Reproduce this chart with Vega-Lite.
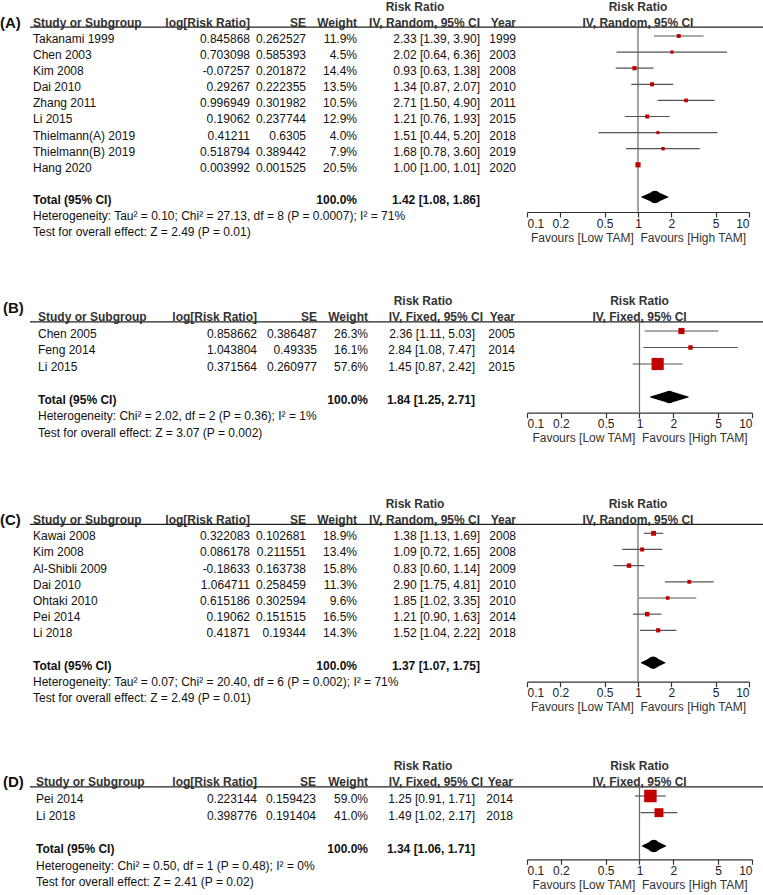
{
"$schema":"https://vega.github.io/schema/vega-lite/v6.json",
"background":"white","padding":0,
"columns":8,"spacing":0,"bounds":"flush","align":"each",
"datasets":{
"studies":[
{"panel":"A","row":1,"study":"Takanami 1999","logrr":0.845868,"se":0.262527,"w":0.119,"ci":"2.33 [1.39, 3.90]","year":1999,"rr":2.33,"lo":1.39,"hi":3.9},
{"panel":"A","row":2,"study":"Chen 2003","logrr":0.703098,"se":0.585393,"w":0.045,"ci":"2.02 [0.64, 6.36]","year":2003,"rr":2.02,"lo":0.64,"hi":6.36},
{"panel":"A","row":3,"study":"Kim 2008","logrr":-0.07257,"se":0.201872,"w":0.144,"ci":"0.93 [0.63, 1.38]","year":2008,"rr":0.93,"lo":0.63,"hi":1.38},
{"panel":"A","row":4,"study":"Dai 2010","logrr":0.29267,"se":0.222355,"w":0.135,"ci":"1.34 [0.87, 2.07]","year":2010,"rr":1.34,"lo":0.87,"hi":2.07},
{"panel":"A","row":5,"study":"Zhang 2011","logrr":0.996949,"se":0.301982,"w":0.105,"ci":"2.71 [1.50, 4.90]","year":2011,"rr":2.71,"lo":1.5,"hi":4.9},
{"panel":"A","row":6,"study":"Li 2015","logrr":0.19062,"se":0.237744,"w":0.129,"ci":"1.21 [0.76, 1.93]","year":2015,"rr":1.21,"lo":0.76,"hi":1.93},
{"panel":"A","row":7,"study":"Thielmann(A) 2019","logrr":0.41211,"se":0.6305,"w":0.04,"ci":"1.51 [0.44, 5.20]","year":2018,"rr":1.51,"lo":0.44,"hi":5.2},
{"panel":"A","row":8,"study":"Thielmann(B) 2019","logrr":0.518794,"se":0.389442,"w":0.079,"ci":"1.68 [0.78, 3.60]","year":2019,"rr":1.68,"lo":0.78,"hi":3.6},
{"panel":"A","row":9,"study":"Hang 2020","logrr":0.003992,"se":0.001525,"w":0.205,"ci":"1.00 [1.00, 1.01]","year":2020,"rr":1.0,"lo":1.0,"hi":1.01},
{"panel":"B","row":1,"study":"Chen 2005","logrr":0.858662,"se":0.386487,"w":0.263,"ci":"2.36 [1.11, 5.03]","year":2005,"rr":2.36,"lo":1.11,"hi":5.03},
{"panel":"B","row":2,"study":"Feng 2014","logrr":1.043804,"se":0.49335,"w":0.161,"ci":"2.84 [1.08, 7.47]","year":2014,"rr":2.84,"lo":1.08,"hi":7.47},
{"panel":"B","row":3,"study":"Li 2015","logrr":0.371564,"se":0.260977,"w":0.576,"ci":"1.45 [0.87, 2.42]","year":2015,"rr":1.45,"lo":0.87,"hi":2.42},
{"panel":"C","row":1,"study":"Kawai 2008","logrr":0.322083,"se":0.102681,"w":0.189,"ci":"1.38 [1.13, 1.69]","year":2008,"rr":1.38,"lo":1.13,"hi":1.69},
{"panel":"C","row":2,"study":"Kim 2008","logrr":0.086178,"se":0.211551,"w":0.134,"ci":"1.09 [0.72, 1.65]","year":2008,"rr":1.09,"lo":0.72,"hi":1.65},
{"panel":"C","row":3,"study":"Al-Shibli 2009","logrr":-0.18633,"se":0.163738,"w":0.158,"ci":"0.83 [0.60, 1.14]","year":2009,"rr":0.83,"lo":0.6,"hi":1.14},
{"panel":"C","row":4,"study":"Dai 2010","logrr":1.064711,"se":0.258459,"w":0.113,"ci":"2.90 [1.75, 4.81]","year":2010,"rr":2.9,"lo":1.75,"hi":4.81},
{"panel":"C","row":5,"study":"Ohtaki 2010","logrr":0.615186,"se":0.302594,"w":0.096,"ci":"1.85 [1.02, 3.35]","year":2010,"rr":1.85,"lo":1.02,"hi":3.35},
{"panel":"C","row":6,"study":"Pei 2014","logrr":0.19062,"se":0.151515,"w":0.165,"ci":"1.21 [0.90, 1.63]","year":2014,"rr":1.21,"lo":0.9,"hi":1.63},
{"panel":"C","row":7,"study":"Li 2018","logrr":0.41871,"se":0.19344,"w":0.143,"ci":"1.52 [1.04, 2.22]","year":2018,"rr":1.52,"lo":1.04,"hi":2.22},
{"panel":"D","row":1,"study":"Pei 2014","logrr":0.223144,"se":0.159423,"w":0.59,"ci":"1.25 [0.91, 1.71]","year":2014,"rr":1.25,"lo":0.91,"hi":1.71},
{"panel":"D","row":2,"study":"Li 2018","logrr":0.398776,"se":0.191404,"w":0.41,"ci":"1.49 [1.02, 2.17]","year":2018,"rr":1.49,"lo":1.02,"hi":2.17}
],
"totals":[
{"panel":"A","row":11,"label":"Total (95% CI)","w":1,"ci":"1.42 [1.08, 1.86]","rr":1.42,"lo":1.08,"hi":1.86},
{"panel":"B","row":5,"label":"Total (95% CI)","w":1,"ci":"1.84 [1.25, 2.71]","rr":1.84,"lo":1.25,"hi":2.71},
{"panel":"C","row":9,"label":"Total (95% CI)","w":1,"ci":"1.37 [1.07, 1.75]","rr":1.37,"lo":1.07,"hi":1.75},
{"panel":"D","row":4,"label":"Total (95% CI)","w":1,"ci":"1.34 [1.06, 1.71]","rr":1.34,"lo":1.06,"hi":1.71}
],
"notes":[
{"panel":"A","row":12,"text":"Heterogeneity: Tau² = 0.10; Chi² = 27.13, df = 8 (P = 0.0007); I² = 71%"},
{"panel":"A","row":13,"text":"Test for overall effect: Z = 2.49 (P = 0.01)"},
{"panel":"B","row":6,"text":"Heterogeneity: Chi² = 2.02, df = 2 (P = 0.36); I² = 1%"},
{"panel":"B","row":7,"text":"Test for overall effect: Z = 3.07 (P = 0.002)"},
{"panel":"C","row":10,"text":"Heterogeneity: Tau² = 0.07; Chi² = 20.40, df = 6 (P = 0.002); I² = 71%"},
{"panel":"C","row":11,"text":"Test for overall effect: Z = 2.49 (P = 0.01)"},
{"panel":"D","row":5,"text":"Heterogeneity: Chi² = 0.50, df = 1 (P = 0.48); I² = 0%"},
{"panel":"D","row":6,"text":"Test for overall effect: Z = 2.41 (P = 0.02)"}
],
"headers":[
{"panel":"A","col":"label","row":0,"text":"(A)"},{"panel":"A","col":"study","row":0,"text":"Study or Subgroup"},{"panel":"A","col":"logrr","row":0,"text":"log[Risk Ratio]"},{"panel":"A","col":"se","row":0,"text":"SE"},{"panel":"A","col":"weight","row":0,"text":"Weight"},{"panel":"A","col":"rrhead","row":-1,"text":"Risk Ratio"},{"panel":"A","col":"ci","row":0,"text":"IV, Random, 95% CI"},{"panel":"A","col":"year","row":0,"text":"Year"},{"panel":"A","col":"f","row":-1,"text":"Risk Ratio"},{"panel":"A","col":"f","row":0,"text":"IV, Random, 95% CI"},
{"panel":"B","col":"label","row":-0.6,"text":"(B)"},{"panel":"B","col":"study","row":0,"text":"Study or Subgroup"},{"panel":"B","col":"logrr","row":0,"text":"log[Risk Ratio]"},{"panel":"B","col":"se","row":0,"text":"SE"},{"panel":"B","col":"weight","row":0,"text":"Weight"},{"panel":"B","col":"rrhead","row":-1,"text":"Risk Ratio"},{"panel":"B","col":"ci","row":0,"text":"IV, Fixed, 95% CI"},{"panel":"B","col":"year","row":0,"text":"Year"},{"panel":"B","col":"f","row":-1,"text":"Risk Ratio"},{"panel":"B","col":"f","row":0,"text":"IV, Fixed, 95% CI"},
{"panel":"C","col":"label","row":0,"text":"(C)"},{"panel":"C","col":"study","row":0,"text":"Study or Subgroup"},{"panel":"C","col":"logrr","row":0,"text":"log[Risk Ratio]"},{"panel":"C","col":"se","row":0,"text":"SE"},{"panel":"C","col":"weight","row":0,"text":"Weight"},{"panel":"C","col":"rrhead","row":-1,"text":"Risk Ratio"},{"panel":"C","col":"ci","row":0,"text":"IV, Random, 95% CI"},{"panel":"C","col":"year","row":0,"text":"Year"},{"panel":"C","col":"f","row":-1,"text":"Risk Ratio"},{"panel":"C","col":"f","row":0,"text":"IV, Random, 95% CI"},
{"panel":"D","col":"label","row":0,"text":"(D)"},{"panel":"D","col":"study","row":0,"text":"Study or Subgroup"},{"panel":"D","col":"logrr","row":0,"text":"log[Risk Ratio]"},{"panel":"D","col":"se","row":0,"text":"SE"},{"panel":"D","col":"weight","row":0,"text":"Weight"},{"panel":"D","col":"rrhead","row":-1,"text":"Risk Ratio"},{"panel":"D","col":"ci","row":0,"text":"IV, Fixed, 95% CI"},{"panel":"D","col":"year","row":0,"text":"Year"},{"panel":"D","col":"f","row":-1,"text":"Risk Ratio"},{"panel":"D","col":"f","row":0,"text":"IV, Fixed, 95% CI"}
]
},
"concat":[
{"width":30,"height":282,"data":{"name":"headers"},"transform":[{"filter":"datum.panel==='A' && datum.col==='label'"}],"mark":{"type":"text","align":"left","dy":3,"fontSize":15,"fontWeight":"bold"},"encoding":{"x":{"value":0},"y":{"field":"row","type":"quantitative","scale":{"domain":[-1.174,16.342],"reverse":true,"nice":false,"zero":false},"axis":null},"text":{"field":"text"}}},
{"width":130,"height":282,"encoding":{"y":{"field":"row","type":"quantitative","scale":{"domain":[-1.174,16.342],"reverse":true,"nice":false,"zero":false},"axis":null}},"layer":[
{"data":{"name":"headers"},"transform":[{"filter":"datum.panel==='A' && datum.col==='study'"}],"mark":{"type":"text","align":"left","dx":3,"dy":3,"fontWeight":"bold","color":"#333"},"encoding":{"x":{"value":0},"text":{"field":"text"}}},
{"data":{"name":"studies"},"transform":[{"filter":"datum.panel==='A'"}],"mark":{"type":"text","align":"left","dx":3,"dy":3},"encoding":{"x":{"value":0},"text":{"field":"study"}}},
{"data":{"name":"totals"},"transform":[{"filter":"datum.panel==='A'"}],"mark":{"type":"text","align":"left","dx":3,"dy":3,"fontWeight":"bold"},"encoding":{"x":{"value":0},"text":{"field":"label"}}},
{"data":{"name":"notes"},"transform":[{"filter":"datum.panel==='A'"}],"mark":{"type":"text","align":"left","dx":3,"dy":3},"encoding":{"x":{"value":0},"text":{"field":"text"}}},
{"data":{"name":"totals"},"transform":[{"filter":"datum.panel==='A'"}],"mark":{"type":"rule","color":"#222","strokeWidth":1.3},"encoding":{"y":{"datum":0.45,"type":"quantitative","scale":{"domain":[-1.174,16.342],"reverse":true,"nice":false,"zero":false},"axis":null}}}]},
{"width":90,"height":282,"encoding":{"y":{"field":"row","type":"quantitative","scale":{"domain":[-1.174,16.342],"reverse":true,"nice":false,"zero":false},"axis":null}},"layer":[
{"data":{"name":"headers"},"transform":[{"filter":"datum.panel==='A' && datum.col==='logrr'"}],"mark":{"type":"text","align":"right","dy":3,"fontWeight":"bold","color":"#333"},"encoding":{"x":{"value":"width"},"text":{"field":"text"}}},
{"data":{"name":"studies"},"transform":[{"filter":"datum.panel==='A'"}],"mark":{"type":"text","align":"right","dy":3},"encoding":{"x":{"value":"width"},"text":{"field":"logrr","type":"nominal"}}},
{"data":{"name":"totals"},"transform":[{"filter":"datum.panel==='A'"}],"mark":{"type":"rule","color":"#222","strokeWidth":1.3},"encoding":{"y":{"datum":0.45,"type":"quantitative","scale":{"domain":[-1.174,16.342],"reverse":true,"nice":false,"zero":false},"axis":null}}}]},
{"width":56,"height":282,"encoding":{"y":{"field":"row","type":"quantitative","scale":{"domain":[-1.174,16.342],"reverse":true,"nice":false,"zero":false},"axis":null}},"layer":[
{"data":{"name":"headers"},"transform":[{"filter":"datum.panel==='A' && datum.col==='se'"}],"mark":{"type":"text","align":"right","dy":3,"fontWeight":"bold","color":"#333"},"encoding":{"x":{"value":"width"},"text":{"field":"text"}}},
{"data":{"name":"studies"},"transform":[{"filter":"datum.panel==='A'"}],"mark":{"type":"text","align":"right","dy":3},"encoding":{"x":{"value":"width"},"text":{"field":"se","type":"nominal"}}},
{"data":{"name":"totals"},"transform":[{"filter":"datum.panel==='A'"}],"mark":{"type":"rule","color":"#222","strokeWidth":1.3},"encoding":{"y":{"datum":0.45,"type":"quantitative","scale":{"domain":[-1.174,16.342],"reverse":true,"nice":false,"zero":false},"axis":null}}}]},
{"width":51,"height":282,"encoding":{"y":{"field":"row","type":"quantitative","scale":{"domain":[-1.174,16.342],"reverse":true,"nice":false,"zero":false},"axis":null}},"layer":[
{"data":{"name":"headers"},"transform":[{"filter":"datum.panel==='A' && datum.col==='weight'"}],"mark":{"type":"text","align":"right","dy":3,"fontWeight":"bold","color":"#333"},"encoding":{"x":{"value":"width"},"text":{"field":"text"}}},
{"data":{"name":"studies"},"transform":[{"filter":"datum.panel==='A'"}],"mark":{"type":"text","align":"right","dy":3},"encoding":{"x":{"value":"width"},"text":{"field":"w","type":"quantitative","format":".1%"}}},
{"data":{"name":"totals"},"transform":[{"filter":"datum.panel==='A'"}],"mark":{"type":"text","align":"right","dy":3,"fontWeight":"bold"},"encoding":{"x":{"value":"width"},"text":{"field":"w","type":"quantitative","format":".1%"}}},
{"data":{"name":"totals"},"transform":[{"filter":"datum.panel==='A'"}],"mark":{"type":"rule","color":"#222","strokeWidth":1.3},"encoding":{"y":{"datum":0.45,"type":"quantitative","scale":{"domain":[-1.174,16.342],"reverse":true,"nice":false,"zero":false},"axis":null}}}]},
{"width":123,"height":282,"encoding":{"y":{"field":"row","type":"quantitative","scale":{"domain":[-1.174,16.342],"reverse":true,"nice":false,"zero":false},"axis":null}},"layer":[
{"data":{"name":"headers"},"transform":[{"filter":"datum.panel==='A' && datum.col==='rrhead'"}],"mark":{"type":"text","align":"center","dx":-65,"dy":3,"fontWeight":"bold","color":"#333"},"encoding":{"x":{"value":"width"},"text":{"field":"text"}}},
{"data":{"name":"headers"},"transform":[{"filter":"datum.panel==='A' && datum.col==='ci'"}],"mark":{"type":"text","align":"right","dy":3,"fontWeight":"bold","color":"#333"},"encoding":{"x":{"value":"width"},"text":{"field":"text"}}},
{"data":{"name":"studies"},"transform":[{"filter":"datum.panel==='A'"}],"mark":{"type":"text","align":"right","dy":3},"encoding":{"x":{"value":"width"},"text":{"field":"ci"}}},
{"data":{"name":"totals"},"transform":[{"filter":"datum.panel==='A'"}],"mark":{"type":"text","align":"right","dy":3,"fontWeight":"bold"},"encoding":{"x":{"value":"width"},"text":{"field":"ci"}}},
{"data":{"name":"totals"},"transform":[{"filter":"datum.panel==='A'"}],"mark":{"type":"rule","color":"#222","strokeWidth":1.3},"encoding":{"y":{"datum":0.45,"type":"quantitative","scale":{"domain":[-1.174,16.342],"reverse":true,"nice":false,"zero":false},"axis":null}}}]},
{"width":47,"height":282,"encoding":{"y":{"field":"row","type":"quantitative","scale":{"domain":[-1.174,16.342],"reverse":true,"nice":false,"zero":false},"axis":null}},"layer":[
{"data":{"name":"headers"},"transform":[{"filter":"datum.panel==='A' && datum.col==='year'"}],"mark":{"type":"text","align":"right","dx":-11,"dy":3,"fontWeight":"bold","color":"#333"},"encoding":{"x":{"value":"width"},"text":{"field":"text"}}},
{"data":{"name":"studies"},"transform":[{"filter":"datum.panel==='A'"}],"mark":{"type":"text","align":"right","dx":-11,"dy":3},"encoding":{"x":{"value":"width"},"text":{"field":"year","type":"nominal"}}},
{"data":{"name":"totals"},"transform":[{"filter":"datum.panel==='A'"}],"mark":{"type":"rule","color":"#222","strokeWidth":1.3},"encoding":{"y":{"datum":0.45,"type":"quantitative","scale":{"domain":[-1.174,16.342],"reverse":true,"nice":false,"zero":false},"axis":null}}}]},
{"width":222,"height":282,"encoding":{"y":{"field":"row","type":"quantitative","scale":{"domain":[-1.174,16.342],"reverse":true,"nice":false,"zero":false},"axis":null}},"layer":[
{"data":{"name":"totals"},"transform":[{"filter":"datum.panel==='A'"}],"mark":{"type":"rule","color":"#222","strokeWidth":1.3},"encoding":{"x":{"datum":0.1,"type":"quantitative","scale":{"type":"log","domain":[0.1,10],"nice":false},"axis":{"values":[0.1,0.2,0.5,1,2,5,10],"format":"~g","title":"Favours [Low TAM]\u00a0 Favours [High TAM]","offset":-71}},"x2":{"datum":14},"y":{"datum":0.45,"type":"quantitative","scale":{"domain":[-1.174,16.342],"reverse":true,"nice":false,"zero":false},"axis":null}}},
{"data":{"name":"totals"},"transform":[{"filter":"datum.panel==='A'"}],"mark":{"type":"rule","color":"#666","strokeWidth":1.2},"encoding":{"x":{"datum":1,"type":"quantitative","scale":{"type":"log","domain":[0.1,10],"nice":false},"axis":{"values":[0.1,0.2,0.5,1,2,5,10],"format":"~g","title":"Favours [Low TAM]\u00a0 Favours [High TAM]","offset":-71}},"y":{"datum":0.45,"type":"quantitative","scale":{"domain":[-1.174,16.342],"reverse":true,"nice":false,"zero":false},"axis":null},"y2":{"datum":11.93}}},
{"data":{"name":"studies"},"transform":[{"filter":"datum.panel==='A'"}],"mark":{"type":"rule","color":"#555","strokeWidth":1.2},"encoding":{"x":{"field":"lo","type":"quantitative","scale":{"type":"log","domain":[0.1,10],"nice":false},"axis":{"values":[0.1,0.2,0.5,1,2,5,10],"format":"~g","title":"Favours [Low TAM]\u00a0 Favours [High TAM]","offset":-71}},"x2":{"field":"hi"}}},
{"data":{"name":"studies"},"transform":[{"filter":"datum.panel==='A'"}],"mark":{"type":"square","filled":true,"color":"#c00000","opacity":1},"encoding":{"x":{"field":"rr","type":"quantitative","scale":{"type":"log","domain":[0.1,10],"nice":false},"axis":{"values":[0.1,0.2,0.5,1,2,5,10],"format":"~g","title":"Favours [Low TAM]\u00a0 Favours [High TAM]","offset":-71}},"size":{"field":"w","type":"quantitative","scale":{"type":"pow","exponent":2,"domain":[0,1],"range":[9,430]},"legend":null}}},
{"data":{"name":"totals"},"transform":[{"filter":"datum.panel==='A'"},{"fold":["lo","rr","hi"],"as":["k","v"]}],"mark":{"type":"trail","color":"#000"},"encoding":{"x":{"field":"v","type":"quantitative","scale":{"type":"log","domain":[0.1,10],"nice":false},"axis":{"values":[0.1,0.2,0.5,1,2,5,10],"format":"~g","title":"Favours [Low TAM]\u00a0 Favours [High TAM]","offset":-71}},"size":{"condition":{"test":"datum.k==='rr'","value":12.5},"value":0}}},
{"data":{"name":"headers"},"transform":[{"filter":"datum.panel==='A' && datum.col==='f'"}],"mark":{"type":"text","align":"center","dy":3,"fontWeight":"bold","color":"#333"},"encoding":{"x":{"datum":1,"type":"quantitative","scale":{"type":"log","domain":[0.1,10],"nice":false},"axis":{"values":[0.1,0.2,0.5,1,2,5,10],"format":"~g","title":"Favours [Low TAM]\u00a0 Favours [High TAM]","offset":-71}},"text":{"field":"text"}}}]},

{"width":30,"height":203,"data":{"name":"headers"},"transform":[{"filter":"datum.panel==='B' && datum.col==='label'"}],"mark":{"type":"text","align":"left","dx":3,"dy":3,"fontSize":15,"fontWeight":"bold"},"encoding":{"x":{"value":0},"y":{"field":"row","type":"quantitative","scale":{"domain":[-1.909,10.394],"reverse":true,"nice":false,"zero":false},"axis":null},"text":{"field":"text"}}},
{"width":130,"height":203,"encoding":{"y":{"field":"row","type":"quantitative","scale":{"domain":[-1.909,10.394],"reverse":true,"nice":false,"zero":false},"axis":null}},"layer":[
{"data":{"name":"headers"},"transform":[{"filter":"datum.panel==='B' && datum.col==='study'"}],"mark":{"type":"text","align":"left","dx":8,"dy":3,"fontWeight":"bold","color":"#333"},"encoding":{"x":{"value":0},"text":{"field":"text"}}},
{"data":{"name":"studies"},"transform":[{"filter":"datum.panel==='B'"}],"mark":{"type":"text","align":"left","dx":8,"dy":3},"encoding":{"x":{"value":0},"text":{"field":"study"}}},
{"data":{"name":"totals"},"transform":[{"filter":"datum.panel==='B'"}],"mark":{"type":"text","align":"left","dx":8,"dy":3,"fontWeight":"bold"},"encoding":{"x":{"value":0},"text":{"field":"label"}}},
{"data":{"name":"notes"},"transform":[{"filter":"datum.panel==='B'"}],"mark":{"type":"text","align":"left","dx":8,"dy":3},"encoding":{"x":{"value":0},"text":{"field":"text"}}},
{"data":{"name":"totals"},"transform":[{"filter":"datum.panel==='B'"}],"mark":{"type":"rule","color":"#222","strokeWidth":1.3},"encoding":{"y":{"datum":0.45,"type":"quantitative","scale":{"domain":[-1.909,10.394],"reverse":true,"nice":false,"zero":false},"axis":null}}}]},
{"width":90,"height":203,"encoding":{"y":{"field":"row","type":"quantitative","scale":{"domain":[-1.909,10.394],"reverse":true,"nice":false,"zero":false},"axis":null}},"layer":[
{"data":{"name":"headers"},"transform":[{"filter":"datum.panel==='B' && datum.col==='logrr'"}],"mark":{"type":"text","align":"right","dx":7,"dy":3,"fontWeight":"bold","color":"#333"},"encoding":{"x":{"value":"width"},"text":{"field":"text"}}},
{"data":{"name":"studies"},"transform":[{"filter":"datum.panel==='B'"}],"mark":{"type":"text","align":"right","dx":7,"dy":3},"encoding":{"x":{"value":"width"},"text":{"field":"logrr","type":"nominal"}}},
{"data":{"name":"totals"},"transform":[{"filter":"datum.panel==='B'"}],"mark":{"type":"rule","color":"#222","strokeWidth":1.3},"encoding":{"y":{"datum":0.45,"type":"quantitative","scale":{"domain":[-1.909,10.394],"reverse":true,"nice":false,"zero":false},"axis":null}}}]},
{"width":56,"height":203,"encoding":{"y":{"field":"row","type":"quantitative","scale":{"domain":[-1.909,10.394],"reverse":true,"nice":false,"zero":false},"axis":null}},"layer":[
{"data":{"name":"headers"},"transform":[{"filter":"datum.panel==='B' && datum.col==='se'"}],"mark":{"type":"text","align":"right","dx":11,"dy":3,"fontWeight":"bold","color":"#333"},"encoding":{"x":{"value":"width"},"text":{"field":"text"}}},
{"data":{"name":"studies"},"transform":[{"filter":"datum.panel==='B'"}],"mark":{"type":"text","align":"right","dx":11,"dy":3},"encoding":{"x":{"value":"width"},"text":{"field":"se","type":"nominal"}}},
{"data":{"name":"totals"},"transform":[{"filter":"datum.panel==='B'"}],"mark":{"type":"rule","color":"#222","strokeWidth":1.3},"encoding":{"y":{"datum":0.45,"type":"quantitative","scale":{"domain":[-1.909,10.394],"reverse":true,"nice":false,"zero":false},"axis":null}}}]},
{"width":51,"height":203,"encoding":{"y":{"field":"row","type":"quantitative","scale":{"domain":[-1.909,10.394],"reverse":true,"nice":false,"zero":false},"axis":null}},"layer":[
{"data":{"name":"headers"},"transform":[{"filter":"datum.panel==='B' && datum.col==='weight'"}],"mark":{"type":"text","align":"right","dx":11,"dy":3,"fontWeight":"bold","color":"#333"},"encoding":{"x":{"value":"width"},"text":{"field":"text"}}},
{"data":{"name":"studies"},"transform":[{"filter":"datum.panel==='B'"}],"mark":{"type":"text","align":"right","dx":11,"dy":3},"encoding":{"x":{"value":"width"},"text":{"field":"w","type":"quantitative","format":".1%"}}},
{"data":{"name":"totals"},"transform":[{"filter":"datum.panel==='B'"}],"mark":{"type":"text","align":"right","dx":11,"dy":3,"fontWeight":"bold"},"encoding":{"x":{"value":"width"},"text":{"field":"w","type":"quantitative","format":".1%"}}},
{"data":{"name":"totals"},"transform":[{"filter":"datum.panel==='B'"}],"mark":{"type":"rule","color":"#222","strokeWidth":1.3},"encoding":{"y":{"datum":0.45,"type":"quantitative","scale":{"domain":[-1.909,10.394],"reverse":true,"nice":false,"zero":false},"axis":null}}}]},
{"width":123,"height":203,"encoding":{"y":{"field":"row","type":"quantitative","scale":{"domain":[-1.909,10.394],"reverse":true,"nice":false,"zero":false},"axis":null}},"layer":[
{"data":{"name":"headers"},"transform":[{"filter":"datum.panel==='B' && datum.col==='rrhead'"}],"mark":{"type":"text","align":"center","dx":-57,"dy":3,"fontWeight":"bold","color":"#333"},"encoding":{"x":{"value":"width"},"text":{"field":"text"}}},
{"data":{"name":"headers"},"transform":[{"filter":"datum.panel==='B' && datum.col==='ci'"}],"mark":{"type":"text","align":"right","dx":3,"dy":3,"fontWeight":"bold","color":"#333"},"encoding":{"x":{"value":"width"},"text":{"field":"text"}}},
{"data":{"name":"studies"},"transform":[{"filter":"datum.panel==='B'"}],"mark":{"type":"text","align":"right","dx":-5,"dy":3},"encoding":{"x":{"value":"width"},"text":{"field":"ci"}}},
{"data":{"name":"totals"},"transform":[{"filter":"datum.panel==='B'"}],"mark":{"type":"text","align":"right","dx":-5,"dy":3,"fontWeight":"bold"},"encoding":{"x":{"value":"width"},"text":{"field":"ci"}}},
{"data":{"name":"totals"},"transform":[{"filter":"datum.panel==='B'"}],"mark":{"type":"rule","color":"#222","strokeWidth":1.3},"encoding":{"y":{"datum":0.45,"type":"quantitative","scale":{"domain":[-1.909,10.394],"reverse":true,"nice":false,"zero":false},"axis":null}}}]},
{"width":47,"height":203,"encoding":{"y":{"field":"row","type":"quantitative","scale":{"domain":[-1.909,10.394],"reverse":true,"nice":false,"zero":false},"axis":null}},"layer":[
{"data":{"name":"headers"},"transform":[{"filter":"datum.panel==='B' && datum.col==='year'"}],"mark":{"type":"text","align":"right","dx":-12,"dy":3,"fontWeight":"bold","color":"#333"},"encoding":{"x":{"value":"width"},"text":{"field":"text"}}},
{"data":{"name":"studies"},"transform":[{"filter":"datum.panel==='B'"}],"mark":{"type":"text","align":"right","dx":-12,"dy":3},"encoding":{"x":{"value":"width"},"text":{"field":"year","type":"nominal"}}},
{"data":{"name":"totals"},"transform":[{"filter":"datum.panel==='B'"}],"mark":{"type":"rule","color":"#222","strokeWidth":1.3},"encoding":{"y":{"datum":0.45,"type":"quantitative","scale":{"domain":[-1.909,10.394],"reverse":true,"nice":false,"zero":false},"axis":null}}}]},
{"width":225,"height":203,"encoding":{"y":{"field":"row","type":"quantitative","scale":{"domain":[-1.909,10.394],"reverse":true,"nice":false,"zero":false},"axis":null}},"layer":[
{"data":{"name":"totals"},"transform":[{"filter":"datum.panel==='B'"}],"mark":{"type":"rule","color":"#222","strokeWidth":1.3},"encoding":{"x":{"datum":0.1,"type":"quantitative","scale":{"type":"log","domain":[0.1,10],"nice":false},"axis":{"values":[0.1,0.2,0.5,1,2,5,10],"format":"~g","title":"Favours [Low TAM]\u00a0 Favours [High TAM]","offset":-73.3}},"x2":{"datum":14},"y":{"datum":0.45,"type":"quantitative","scale":{"domain":[-1.909,10.394],"reverse":true,"nice":false,"zero":false},"axis":null}}},
{"data":{"name":"totals"},"transform":[{"filter":"datum.panel==='B'"}],"mark":{"type":"rule","color":"#666","strokeWidth":1.2},"encoding":{"x":{"datum":1,"type":"quantitative","scale":{"type":"log","domain":[0.1,10],"nice":false},"axis":{"values":[0.1,0.2,0.5,1,2,5,10],"format":"~g","title":"Favours [Low TAM]\u00a0 Favours [High TAM]","offset":-73.3}},"y":{"datum":0.45,"type":"quantitative","scale":{"domain":[-1.909,10.394],"reverse":true,"nice":false,"zero":false},"axis":null},"y2":{"datum":5.95}}},
{"data":{"name":"studies"},"transform":[{"filter":"datum.panel==='B'"}],"mark":{"type":"rule","color":"#555","strokeWidth":1.2},"encoding":{"x":{"field":"lo","type":"quantitative","scale":{"type":"log","domain":[0.1,10],"nice":false},"axis":{"values":[0.1,0.2,0.5,1,2,5,10],"format":"~g","title":"Favours [Low TAM]\u00a0 Favours [High TAM]","offset":-73.3}},"x2":{"field":"hi"}}},
{"data":{"name":"studies"},"transform":[{"filter":"datum.panel==='B'"}],"mark":{"type":"square","filled":true,"color":"#c00000","opacity":1},"encoding":{"x":{"field":"rr","type":"quantitative","scale":{"type":"log","domain":[0.1,10],"nice":false},"axis":{"values":[0.1,0.2,0.5,1,2,5,10],"format":"~g","title":"Favours [Low TAM]\u00a0 Favours [High TAM]","offset":-73.3}},"size":{"field":"w","type":"quantitative","scale":{"type":"pow","exponent":2,"domain":[0,1],"range":[9,430]},"legend":null}}},
{"data":{"name":"totals"},"transform":[{"filter":"datum.panel==='B'"},{"fold":["lo","rr","hi"],"as":["k","v"]}],"mark":{"type":"trail","color":"#000"},"encoding":{"x":{"field":"v","type":"quantitative","scale":{"type":"log","domain":[0.1,10],"nice":false},"axis":{"values":[0.1,0.2,0.5,1,2,5,10],"format":"~g","title":"Favours [Low TAM]\u00a0 Favours [High TAM]","offset":-73.3}},"size":{"condition":{"test":"datum.k==='rr'","value":12.5},"value":0}}},
{"data":{"name":"headers"},"transform":[{"filter":"datum.panel==='B' && datum.col==='f'"}],"mark":{"type":"text","align":"center","dy":3,"fontWeight":"bold","color":"#333"},"encoding":{"x":{"datum":1,"type":"quantitative","scale":{"type":"log","domain":[0.1,10],"nice":false},"axis":{"values":[0.1,0.2,0.5,1,2,5,10],"format":"~g","title":"Favours [Low TAM]\u00a0 Favours [High TAM]","offset":-73.3}},"text":{"field":"text"}}}]},

{"width":30,"height":263,"data":{"name":"headers"},"transform":[{"filter":"datum.panel==='C' && datum.col==='label'"}],"mark":{"type":"text","align":"left","dy":3,"fontSize":15,"fontWeight":"bold"},"encoding":{"x":{"value":0},"y":{"field":"row","type":"quantitative","scale":{"domain":[-1.925,14.339],"reverse":true,"nice":false,"zero":false},"axis":null},"text":{"field":"text"}}},
{"width":130,"height":263,"encoding":{"y":{"field":"row","type":"quantitative","scale":{"domain":[-1.925,14.339],"reverse":true,"nice":false,"zero":false},"axis":null}},"layer":[
{"data":{"name":"headers"},"transform":[{"filter":"datum.panel==='C' && datum.col==='study'"}],"mark":{"type":"text","align":"left","dx":3,"dy":3,"fontWeight":"bold","color":"#333"},"encoding":{"x":{"value":0},"text":{"field":"text"}}},
{"data":{"name":"studies"},"transform":[{"filter":"datum.panel==='C'"}],"mark":{"type":"text","align":"left","dx":3,"dy":3},"encoding":{"x":{"value":0},"text":{"field":"study"}}},
{"data":{"name":"totals"},"transform":[{"filter":"datum.panel==='C'"}],"mark":{"type":"text","align":"left","dx":3,"dy":3,"fontWeight":"bold"},"encoding":{"x":{"value":0},"text":{"field":"label"}}},
{"data":{"name":"notes"},"transform":[{"filter":"datum.panel==='C'"}],"mark":{"type":"text","align":"left","dx":3,"dy":3},"encoding":{"x":{"value":0},"text":{"field":"text"}}},
{"data":{"name":"totals"},"transform":[{"filter":"datum.panel==='C'"}],"mark":{"type":"rule","color":"#222","strokeWidth":1.3},"encoding":{"y":{"datum":0.45,"type":"quantitative","scale":{"domain":[-1.925,14.339],"reverse":true,"nice":false,"zero":false},"axis":null}}}]},
{"width":90,"height":263,"encoding":{"y":{"field":"row","type":"quantitative","scale":{"domain":[-1.925,14.339],"reverse":true,"nice":false,"zero":false},"axis":null}},"layer":[
{"data":{"name":"headers"},"transform":[{"filter":"datum.panel==='C' && datum.col==='logrr'"}],"mark":{"type":"text","align":"right","dy":3,"fontWeight":"bold","color":"#333"},"encoding":{"x":{"value":"width"},"text":{"field":"text"}}},
{"data":{"name":"studies"},"transform":[{"filter":"datum.panel==='C'"}],"mark":{"type":"text","align":"right","dy":3},"encoding":{"x":{"value":"width"},"text":{"field":"logrr","type":"nominal"}}},
{"data":{"name":"totals"},"transform":[{"filter":"datum.panel==='C'"}],"mark":{"type":"rule","color":"#222","strokeWidth":1.3},"encoding":{"y":{"datum":0.45,"type":"quantitative","scale":{"domain":[-1.925,14.339],"reverse":true,"nice":false,"zero":false},"axis":null}}}]},
{"width":56,"height":263,"encoding":{"y":{"field":"row","type":"quantitative","scale":{"domain":[-1.925,14.339],"reverse":true,"nice":false,"zero":false},"axis":null}},"layer":[
{"data":{"name":"headers"},"transform":[{"filter":"datum.panel==='C' && datum.col==='se'"}],"mark":{"type":"text","align":"right","dy":3,"fontWeight":"bold","color":"#333"},"encoding":{"x":{"value":"width"},"text":{"field":"text"}}},
{"data":{"name":"studies"},"transform":[{"filter":"datum.panel==='C'"}],"mark":{"type":"text","align":"right","dy":3},"encoding":{"x":{"value":"width"},"text":{"field":"se","type":"nominal"}}},
{"data":{"name":"totals"},"transform":[{"filter":"datum.panel==='C'"}],"mark":{"type":"rule","color":"#222","strokeWidth":1.3},"encoding":{"y":{"datum":0.45,"type":"quantitative","scale":{"domain":[-1.925,14.339],"reverse":true,"nice":false,"zero":false},"axis":null}}}]},
{"width":51,"height":263,"encoding":{"y":{"field":"row","type":"quantitative","scale":{"domain":[-1.925,14.339],"reverse":true,"nice":false,"zero":false},"axis":null}},"layer":[
{"data":{"name":"headers"},"transform":[{"filter":"datum.panel==='C' && datum.col==='weight'"}],"mark":{"type":"text","align":"right","dy":3,"fontWeight":"bold","color":"#333"},"encoding":{"x":{"value":"width"},"text":{"field":"text"}}},
{"data":{"name":"studies"},"transform":[{"filter":"datum.panel==='C'"}],"mark":{"type":"text","align":"right","dy":3},"encoding":{"x":{"value":"width"},"text":{"field":"w","type":"quantitative","format":".1%"}}},
{"data":{"name":"totals"},"transform":[{"filter":"datum.panel==='C'"}],"mark":{"type":"text","align":"right","dy":3,"fontWeight":"bold"},"encoding":{"x":{"value":"width"},"text":{"field":"w","type":"quantitative","format":".1%"}}},
{"data":{"name":"totals"},"transform":[{"filter":"datum.panel==='C'"}],"mark":{"type":"rule","color":"#222","strokeWidth":1.3},"encoding":{"y":{"datum":0.45,"type":"quantitative","scale":{"domain":[-1.925,14.339],"reverse":true,"nice":false,"zero":false},"axis":null}}}]},
{"width":123,"height":263,"encoding":{"y":{"field":"row","type":"quantitative","scale":{"domain":[-1.925,14.339],"reverse":true,"nice":false,"zero":false},"axis":null}},"layer":[
{"data":{"name":"headers"},"transform":[{"filter":"datum.panel==='C' && datum.col==='rrhead'"}],"mark":{"type":"text","align":"center","dx":-65,"dy":3,"fontWeight":"bold","color":"#333"},"encoding":{"x":{"value":"width"},"text":{"field":"text"}}},
{"data":{"name":"headers"},"transform":[{"filter":"datum.panel==='C' && datum.col==='ci'"}],"mark":{"type":"text","align":"right","dy":3,"fontWeight":"bold","color":"#333"},"encoding":{"x":{"value":"width"},"text":{"field":"text"}}},
{"data":{"name":"studies"},"transform":[{"filter":"datum.panel==='C'"}],"mark":{"type":"text","align":"right","dy":3},"encoding":{"x":{"value":"width"},"text":{"field":"ci"}}},
{"data":{"name":"totals"},"transform":[{"filter":"datum.panel==='C'"}],"mark":{"type":"text","align":"right","dy":3,"fontWeight":"bold"},"encoding":{"x":{"value":"width"},"text":{"field":"ci"}}},
{"data":{"name":"totals"},"transform":[{"filter":"datum.panel==='C'"}],"mark":{"type":"rule","color":"#222","strokeWidth":1.3},"encoding":{"y":{"datum":0.45,"type":"quantitative","scale":{"domain":[-1.925,14.339],"reverse":true,"nice":false,"zero":false},"axis":null}}}]},
{"width":47,"height":263,"encoding":{"y":{"field":"row","type":"quantitative","scale":{"domain":[-1.925,14.339],"reverse":true,"nice":false,"zero":false},"axis":null}},"layer":[
{"data":{"name":"headers"},"transform":[{"filter":"datum.panel==='C' && datum.col==='year'"}],"mark":{"type":"text","align":"right","dx":-11,"dy":3,"fontWeight":"bold","color":"#333"},"encoding":{"x":{"value":"width"},"text":{"field":"text"}}},
{"data":{"name":"studies"},"transform":[{"filter":"datum.panel==='C'"}],"mark":{"type":"text","align":"right","dx":-11,"dy":3},"encoding":{"x":{"value":"width"},"text":{"field":"year","type":"nominal"}}},
{"data":{"name":"totals"},"transform":[{"filter":"datum.panel==='C'"}],"mark":{"type":"rule","color":"#222","strokeWidth":1.3},"encoding":{"y":{"datum":0.45,"type":"quantitative","scale":{"domain":[-1.925,14.339],"reverse":true,"nice":false,"zero":false},"axis":null}}}]},
{"width":222,"height":263,"encoding":{"y":{"field":"row","type":"quantitative","scale":{"domain":[-1.925,14.339],"reverse":true,"nice":false,"zero":false},"axis":null}},"layer":[
{"data":{"name":"totals"},"transform":[{"filter":"datum.panel==='C'"}],"mark":{"type":"rule","color":"#222","strokeWidth":1.3},"encoding":{"x":{"datum":0.1,"type":"quantitative","scale":{"type":"log","domain":[0.1,10],"nice":false},"axis":{"values":[0.1,0.2,0.5,1,2,5,10],"format":"~g","title":"Favours [Low TAM]\u00a0 Favours [High TAM]","offset":-67.3}},"x2":{"datum":14},"y":{"datum":0.45,"type":"quantitative","scale":{"domain":[-1.925,14.339],"reverse":true,"nice":false,"zero":false},"axis":null}}},
{"data":{"name":"totals"},"transform":[{"filter":"datum.panel==='C'"}],"mark":{"type":"rule","color":"#666","strokeWidth":1.2},"encoding":{"x":{"datum":1,"type":"quantitative","scale":{"type":"log","domain":[0.1,10],"nice":false},"axis":{"values":[0.1,0.2,0.5,1,2,5,10],"format":"~g","title":"Favours [Low TAM]\u00a0 Favours [High TAM]","offset":-67.3}},"y":{"datum":0.45,"type":"quantitative","scale":{"domain":[-1.925,14.339],"reverse":true,"nice":false,"zero":false},"axis":null},"y2":{"datum":10.18}}},
{"data":{"name":"studies"},"transform":[{"filter":"datum.panel==='C'"}],"mark":{"type":"rule","color":"#555","strokeWidth":1.2},"encoding":{"x":{"field":"lo","type":"quantitative","scale":{"type":"log","domain":[0.1,10],"nice":false},"axis":{"values":[0.1,0.2,0.5,1,2,5,10],"format":"~g","title":"Favours [Low TAM]\u00a0 Favours [High TAM]","offset":-67.3}},"x2":{"field":"hi"}}},
{"data":{"name":"studies"},"transform":[{"filter":"datum.panel==='C'"}],"mark":{"type":"square","filled":true,"color":"#c00000","opacity":1},"encoding":{"x":{"field":"rr","type":"quantitative","scale":{"type":"log","domain":[0.1,10],"nice":false},"axis":{"values":[0.1,0.2,0.5,1,2,5,10],"format":"~g","title":"Favours [Low TAM]\u00a0 Favours [High TAM]","offset":-67.3}},"size":{"field":"w","type":"quantitative","scale":{"type":"pow","exponent":2,"domain":[0,1],"range":[9,430]},"legend":null}}},
{"data":{"name":"totals"},"transform":[{"filter":"datum.panel==='C'"},{"fold":["lo","rr","hi"],"as":["k","v"]}],"mark":{"type":"trail","color":"#000"},"encoding":{"x":{"field":"v","type":"quantitative","scale":{"type":"log","domain":[0.1,10],"nice":false},"axis":{"values":[0.1,0.2,0.5,1,2,5,10],"format":"~g","title":"Favours [Low TAM]\u00a0 Favours [High TAM]","offset":-67.3}},"size":{"condition":{"test":"datum.k==='rr'","value":12.5},"value":0}}},
{"data":{"name":"headers"},"transform":[{"filter":"datum.panel==='C' && datum.col==='f'"}],"mark":{"type":"text","align":"center","dy":3,"fontWeight":"bold","color":"#333"},"encoding":{"x":{"datum":1,"type":"quantitative","scale":{"type":"log","domain":[0.1,10],"nice":false},"axis":{"values":[0.1,0.2,0.5,1,2,5,10],"format":"~g","title":"Favours [Low TAM]\u00a0 Favours [High TAM]","offset":-67.3}},"text":{"field":"text"}}}]},

{"width":30,"height":147,"data":{"name":"headers"},"transform":[{"filter":"datum.panel==='D' && datum.col==='label'"}],"mark":{"type":"text","align":"left","dx":3,"dy":3,"fontSize":15,"fontWeight":"bold"},"encoding":{"x":{"value":0},"y":{"field":"row","type":"quantitative","scale":{"domain":[-1.814,6.988],"reverse":true,"nice":false,"zero":false},"axis":null},"text":{"field":"text"}}},
{"width":130,"height":147,"encoding":{"y":{"field":"row","type":"quantitative","scale":{"domain":[-1.814,6.988],"reverse":true,"nice":false,"zero":false},"axis":null}},"layer":[
{"data":{"name":"headers"},"transform":[{"filter":"datum.panel==='D' && datum.col==='study'"}],"mark":{"type":"text","align":"left","dx":6,"dy":3,"fontWeight":"bold","color":"#333"},"encoding":{"x":{"value":0},"text":{"field":"text"}}},
{"data":{"name":"studies"},"transform":[{"filter":"datum.panel==='D'"}],"mark":{"type":"text","align":"left","dx":6,"dy":3},"encoding":{"x":{"value":0},"text":{"field":"study"}}},
{"data":{"name":"totals"},"transform":[{"filter":"datum.panel==='D'"}],"mark":{"type":"text","align":"left","dx":6,"dy":3,"fontWeight":"bold"},"encoding":{"x":{"value":0},"text":{"field":"label"}}},
{"data":{"name":"notes"},"transform":[{"filter":"datum.panel==='D'"}],"mark":{"type":"text","align":"left","dx":6,"dy":3},"encoding":{"x":{"value":0},"text":{"field":"text"}}},
{"data":{"name":"totals"},"transform":[{"filter":"datum.panel==='D'"}],"mark":{"type":"rule","color":"#222","strokeWidth":1.3},"encoding":{"y":{"datum":0.45,"type":"quantitative","scale":{"domain":[-1.814,6.988],"reverse":true,"nice":false,"zero":false},"axis":null}}}]},
{"width":90,"height":147,"encoding":{"y":{"field":"row","type":"quantitative","scale":{"domain":[-1.814,6.988],"reverse":true,"nice":false,"zero":false},"axis":null}},"layer":[
{"data":{"name":"headers"},"transform":[{"filter":"datum.panel==='D' && datum.col==='logrr'"}],"mark":{"type":"text","align":"right","dx":7,"dy":3,"fontWeight":"bold","color":"#333"},"encoding":{"x":{"value":"width"},"text":{"field":"text"}}},
{"data":{"name":"studies"},"transform":[{"filter":"datum.panel==='D'"}],"mark":{"type":"text","align":"right","dx":7,"dy":3},"encoding":{"x":{"value":"width"},"text":{"field":"logrr","type":"nominal"}}},
{"data":{"name":"totals"},"transform":[{"filter":"datum.panel==='D'"}],"mark":{"type":"rule","color":"#222","strokeWidth":1.3},"encoding":{"y":{"datum":0.45,"type":"quantitative","scale":{"domain":[-1.814,6.988],"reverse":true,"nice":false,"zero":false},"axis":null}}}]},
{"width":56,"height":147,"encoding":{"y":{"field":"row","type":"quantitative","scale":{"domain":[-1.814,6.988],"reverse":true,"nice":false,"zero":false},"axis":null}},"layer":[
{"data":{"name":"headers"},"transform":[{"filter":"datum.panel==='D' && datum.col==='se'"}],"mark":{"type":"text","align":"right","dx":10,"dy":3,"fontWeight":"bold","color":"#333"},"encoding":{"x":{"value":"width"},"text":{"field":"text"}}},
{"data":{"name":"studies"},"transform":[{"filter":"datum.panel==='D'"}],"mark":{"type":"text","align":"right","dx":10,"dy":3},"encoding":{"x":{"value":"width"},"text":{"field":"se","type":"nominal"}}},
{"data":{"name":"totals"},"transform":[{"filter":"datum.panel==='D'"}],"mark":{"type":"rule","color":"#222","strokeWidth":1.3},"encoding":{"y":{"datum":0.45,"type":"quantitative","scale":{"domain":[-1.814,6.988],"reverse":true,"nice":false,"zero":false},"axis":null}}}]},
{"width":51,"height":147,"encoding":{"y":{"field":"row","type":"quantitative","scale":{"domain":[-1.814,6.988],"reverse":true,"nice":false,"zero":false},"axis":null}},"layer":[
{"data":{"name":"headers"},"transform":[{"filter":"datum.panel==='D' && datum.col==='weight'"}],"mark":{"type":"text","align":"right","dx":11,"dy":3,"fontWeight":"bold","color":"#333"},"encoding":{"x":{"value":"width"},"text":{"field":"text"}}},
{"data":{"name":"studies"},"transform":[{"filter":"datum.panel==='D'"}],"mark":{"type":"text","align":"right","dx":11,"dy":3},"encoding":{"x":{"value":"width"},"text":{"field":"w","type":"quantitative","format":".1%"}}},
{"data":{"name":"totals"},"transform":[{"filter":"datum.panel==='D'"}],"mark":{"type":"text","align":"right","dx":11,"dy":3,"fontWeight":"bold"},"encoding":{"x":{"value":"width"},"text":{"field":"w","type":"quantitative","format":".1%"}}},
{"data":{"name":"totals"},"transform":[{"filter":"datum.panel==='D'"}],"mark":{"type":"rule","color":"#222","strokeWidth":1.3},"encoding":{"y":{"datum":0.45,"type":"quantitative","scale":{"domain":[-1.814,6.988],"reverse":true,"nice":false,"zero":false},"axis":null}}}]},
{"width":123,"height":147,"encoding":{"y":{"field":"row","type":"quantitative","scale":{"domain":[-1.814,6.988],"reverse":true,"nice":false,"zero":false},"axis":null}},"layer":[
{"data":{"name":"headers"},"transform":[{"filter":"datum.panel==='D' && datum.col==='rrhead'"}],"mark":{"type":"text","align":"center","dx":-57,"dy":3,"fontWeight":"bold","color":"#333"},"encoding":{"x":{"value":"width"},"text":{"field":"text"}}},
{"data":{"name":"headers"},"transform":[{"filter":"datum.panel==='D' && datum.col==='ci'"}],"mark":{"type":"text","align":"right","dx":3,"dy":3,"fontWeight":"bold","color":"#333"},"encoding":{"x":{"value":"width"},"text":{"field":"text"}}},
{"data":{"name":"studies"},"transform":[{"filter":"datum.panel==='D'"}],"mark":{"type":"text","align":"right","dx":-5,"dy":3},"encoding":{"x":{"value":"width"},"text":{"field":"ci"}}},
{"data":{"name":"totals"},"transform":[{"filter":"datum.panel==='D'"}],"mark":{"type":"text","align":"right","dx":-5,"dy":3,"fontWeight":"bold"},"encoding":{"x":{"value":"width"},"text":{"field":"ci"}}},
{"data":{"name":"totals"},"transform":[{"filter":"datum.panel==='D'"}],"mark":{"type":"rule","color":"#222","strokeWidth":1.3},"encoding":{"y":{"datum":0.45,"type":"quantitative","scale":{"domain":[-1.814,6.988],"reverse":true,"nice":false,"zero":false},"axis":null}}}]},
{"width":47,"height":147,"encoding":{"y":{"field":"row","type":"quantitative","scale":{"domain":[-1.814,6.988],"reverse":true,"nice":false,"zero":false},"axis":null}},"layer":[
{"data":{"name":"headers"},"transform":[{"filter":"datum.panel==='D' && datum.col==='year'"}],"mark":{"type":"text","align":"right","dx":-14,"dy":3,"fontWeight":"bold","color":"#333"},"encoding":{"x":{"value":"width"},"text":{"field":"text"}}},
{"data":{"name":"studies"},"transform":[{"filter":"datum.panel==='D'"}],"mark":{"type":"text","align":"right","dx":-14,"dy":3},"encoding":{"x":{"value":"width"},"text":{"field":"year","type":"nominal"}}},
{"data":{"name":"totals"},"transform":[{"filter":"datum.panel==='D'"}],"mark":{"type":"rule","color":"#222","strokeWidth":1.3},"encoding":{"y":{"datum":0.45,"type":"quantitative","scale":{"domain":[-1.814,6.988],"reverse":true,"nice":false,"zero":false},"axis":null}}}]},
{"width":225,"height":147,"encoding":{"y":{"field":"row","type":"quantitative","scale":{"domain":[-1.814,6.988],"reverse":true,"nice":false,"zero":false},"axis":null}},"layer":[
{"data":{"name":"totals"},"transform":[{"filter":"datum.panel==='D'"}],"mark":{"type":"rule","color":"#222","strokeWidth":1.3},"encoding":{"x":{"datum":0.1,"type":"quantitative","scale":{"type":"log","domain":[0.1,10],"nice":false},"axis":{"values":[0.1,0.2,0.5,1,2,5,10],"format":"~g","title":"Favours [Low TAM]\u00a0 Favours [High TAM]","offset":-36.7}},"x2":{"datum":14},"y":{"datum":0.45,"type":"quantitative","scale":{"domain":[-1.814,6.988],"reverse":true,"nice":false,"zero":false},"axis":null}}},
{"data":{"name":"totals"},"transform":[{"filter":"datum.panel==='D'"}],"mark":{"type":"rule","color":"#666","strokeWidth":1.2},"encoding":{"x":{"datum":1,"type":"quantitative","scale":{"type":"log","domain":[0.1,10],"nice":false},"axis":{"values":[0.1,0.2,0.5,1,2,5,10],"format":"~g","title":"Favours [Low TAM]\u00a0 Favours [High TAM]","offset":-36.7}},"y":{"datum":0.45,"type":"quantitative","scale":{"domain":[-1.814,6.988],"reverse":true,"nice":false,"zero":false},"axis":null},"y2":{"datum":4.79}}},
{"data":{"name":"studies"},"transform":[{"filter":"datum.panel==='D'"}],"mark":{"type":"rule","color":"#555","strokeWidth":1.2},"encoding":{"x":{"field":"lo","type":"quantitative","scale":{"type":"log","domain":[0.1,10],"nice":false},"axis":{"values":[0.1,0.2,0.5,1,2,5,10],"format":"~g","title":"Favours [Low TAM]\u00a0 Favours [High TAM]","offset":-36.7}},"x2":{"field":"hi"}}},
{"data":{"name":"studies"},"transform":[{"filter":"datum.panel==='D'"}],"mark":{"type":"square","filled":true,"color":"#c00000","opacity":1},"encoding":{"x":{"field":"rr","type":"quantitative","scale":{"type":"log","domain":[0.1,10],"nice":false},"axis":{"values":[0.1,0.2,0.5,1,2,5,10],"format":"~g","title":"Favours [Low TAM]\u00a0 Favours [High TAM]","offset":-36.7}},"size":{"field":"w","type":"quantitative","scale":{"type":"pow","exponent":2,"domain":[0,1],"range":[9,430]},"legend":null}}},
{"data":{"name":"totals"},"transform":[{"filter":"datum.panel==='D'"},{"fold":["lo","rr","hi"],"as":["k","v"]}],"mark":{"type":"trail","color":"#000"},"encoding":{"x":{"field":"v","type":"quantitative","scale":{"type":"log","domain":[0.1,10],"nice":false},"axis":{"values":[0.1,0.2,0.5,1,2,5,10],"format":"~g","title":"Favours [Low TAM]\u00a0 Favours [High TAM]","offset":-36.7}},"size":{"condition":{"test":"datum.k==='rr'","value":12.5},"value":0}}},
{"data":{"name":"headers"},"transform":[{"filter":"datum.panel==='D' && datum.col==='f'"}],"mark":{"type":"text","align":"center","dy":3,"fontWeight":"bold","color":"#333"},"encoding":{"x":{"datum":1,"type":"quantitative","scale":{"type":"log","domain":[0.1,10],"nice":false},"axis":{"values":[0.1,0.2,0.5,1,2,5,10],"format":"~g","title":"Favours [Low TAM]\u00a0 Favours [High TAM]","offset":-36.7}},"text":{"field":"text"}}}]}
],
"config":{"view":{"stroke":null},"font":"Liberation Sans","text":{"font":"Liberation Sans","fontSize":12,"color":"#111"},"axis":{"labelFont":"Liberation Sans","titleFont":"Liberation Sans","labelFontSize":12,"titleFontSize":12,"titleFontWeight":"normal","labelColor":"#222","titleColor":"#333","domainColor":"#333","tickColor":"#333","tickSize":5,"labelPadding":1,"titlePadding":3,"grid":false,"domainWidth":1.2,"tickWidth":1.2}}
}
